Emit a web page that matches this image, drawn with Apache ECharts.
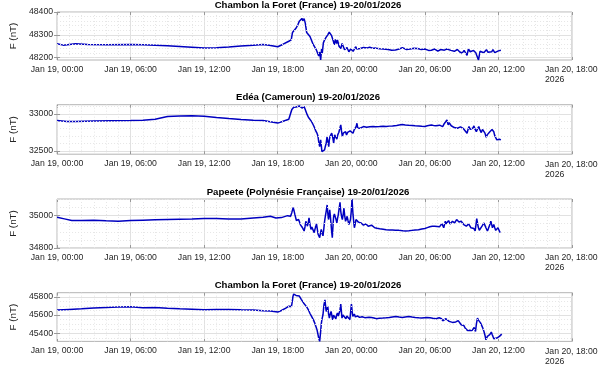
<!DOCTYPE html>
<html><head><meta charset="utf-8">
<script src="https://cdn.jsdelivr.net/npm/echarts@6/dist/echarts.min.js"></script>
<style>html,body{margin:0;padding:0;background:#fff}#c{width:602px;height:367px}</style>
</head><body><div id="c"></div>
<script>
// ---- tick labels / titles ----
const tickLabels = ['Jan 19, 00:00','Jan 19, 06:00','Jan 19, 12:00','Jan 19, 18:00','Jan 20, 00:00','Jan 20, 06:00','Jan 20, 12:00','Jan 20, 18:00'];
const yearLabel = '2026';
const titles = ['Chambon la Foret (France) 19-20/01/2026','Edéa (Cameroun) 19-20/01/2026','Papeete (Polynésie Française) 19-20/01/2026','Chambon la Foret (France) 19-20/01/2026'];
const yAxisName = 'F (nT)';

// ---- y axis limits & ticks ----
const yLimits = [[48190,48400],[32455,33125],[34800,35103],[45312,45845]];
const yTicks = [[48200,48300,48400],[32500,33000],[34800,35000],[45400,45600,45800]];
const yMinorSteps = [20,100,50,50];

// ---- data: [hours since Jan 19 00:00, F (nT)] ----
const chambonA = [[0,48261],[0.5,48255],[1,48258],[1.5,48261],[2.5,48258],[4,48257],[6,48258],[7,48257],[8,48255],[9,48252],[10,48249],[11,48246],[12,48242],[13,48244],[14,48247],[15,48251],[16,48255],[16.8,48258],[17.3,48255],[18,48248],[18.4,48258],[18.9,48272],[19.1,48278],[19.2,48310],[19.35,48318],[19.5,48330],[19.65,48345],[19.76,48360],[19.85,48366],[19.97,48372],[20.05,48362],[20.15,48371],[20.25,48350],[20.36,48310],[20.45,48315],[20.63,48293],[20.75,48296],[20.89,48258],[21,48265],[21.16,48233],[21.25,48240],[21.34,48208],[21.42,48225],[21.5,48190],[21.58,48240],[21.63,48220],[21.72,48265],[21.82,48278],[21.95,48290],[22.08,48300],[22.2,48312],[22.29,48316],[22.38,48298],[22.45,48305],[22.55,48270],[22.61,48256],[22.7,48280],[22.8,48262],[22.87,48278],[23,48250],[23.14,48240],[23.25,48262],[23.35,48260],[23.45,48235],[23.53,48233],[23.65,48245],[23.8,48226],[23.95,48238],[24.06,48242],[24.15,48228],[24.25,48232],[24.35,48248],[24.46,48238],[24.6,48244],[24.72,48240],[25,48245],[25.3,48243],[25.5,48246],[25.8,48241],[26,48242],[26.3,48239],[26.6,48238],[27,48236],[27.3,48233],[27.6,48234],[27.9,48238],[28.16,48244],[28.3,48238],[28.5,48236],[28.8,48238],[29.1,48241],[29.4,48240],[29.7,48236],[30,48238],[30.3,48232],[30.53,48233],[30.8,48238],[31.06,48229],[31.3,48236],[31.59,48233],[31.8,48238],[32.12,48232],[32.4,48228],[32.65,48236],[32.85,48225],[33.04,48220],[33.2,48232],[33.44,48210],[33.55,48238],[33.7,48226],[33.85,48225],[33.97,48232],[34.15,48222],[34.37,48190],[34.5,48228],[34.63,48232],[34.8,48222],[35.02,48235],[35.15,48224],[35.29,48230],[35.45,48226],[35.55,48235],[35.7,48222],[35.82,48227],[36,48230],[36.2,48233]];

const edea = [[0,32910],[0.8,32896],[1.5,32898],[3,32905],[6,32910],[7,32915],[8,32928],[9,32964],[10,32972],[11,32977],[12,32968],[13,32952],[14,32937],[15,32925],[16,32914],[16.8,32910],[17.5,32892],[18,32876],[18.5,32905],[18.9,32928],[19.05,32930],[19.15,33060],[19.24,33054],[19.3,33090],[19.4,33085],[19.5,33095],[19.57,33076],[19.65,33098],[19.76,33108],[19.85,33090],[19.97,33080],[20.05,33102],[20.15,33099],[20.22,33070],[20.31,33031],[20.4,32990],[20.5,32955],[20.6,32930],[20.76,32896],[20.9,32850],[21.02,32806],[21.1,32770],[21.2,32739],[21.28,32700],[21.34,32626],[21.42,32558],[21.5,32649],[21.56,32560],[21.6,32491],[21.69,32468],[21.76,32500],[21.82,32513],[21.88,32560],[21.95,32604],[22.02,32690],[22.08,32716],[22.16,32558],[22.21,32650],[22.26,32694],[22.33,32710],[22.4,32739],[22.48,32690],[22.56,32604],[22.64,32716],[22.72,32690],[22.82,32658],[22.9,32720],[22.98,32748],[23.06,32760],[23.14,32851],[23.2,32770],[23.27,32694],[23.35,32740],[23.45,32739],[23.53,32760],[23.61,32716],[23.7,32750],[23.8,32748],[23.9,32770],[23.98,32784],[24.06,32760],[24.14,32739],[24.22,32780],[24.33,32806],[24.4,32830],[24.46,32874],[24.52,32810],[24.59,32784],[24.65,32800],[24.72,32806],[24.85,32820],[24.99,32829],[25.1,32818],[25.25,32820],[25.5,32826],[25.78,32829],[26,32826],[26.3,32829],[26.6,32833],[26.84,32829],[27.1,32835],[27.36,32838],[27.7,32845],[27.9,32850],[28.16,32856],[28.4,32850],[28.68,32847],[29,32844],[29.2,32840],[29.48,32838],[29.75,32832],[30,32829],[30.2,32840],[30.35,32835],[30.53,32851],[30.7,32845],[30.9,32840],[31.06,32838],[31.2,32848],[31.32,32874],[31.45,32829],[31.55,32860],[31.65,32865],[31.8,32919],[31.9,32851],[31.98,32880],[32.06,32874],[32.15,32840],[32.25,32829],[32.4,32815],[32.52,32810],[32.65,32806],[32.8,32818],[32.9,32825],[33.04,32829],[33.15,32800],[33.3,32806],[33.44,32739],[33.52,32790],[33.6,32829],[33.7,32790],[33.84,32775],[33.92,32810],[34,32838],[34.1,32790],[34.2,32761],[34.3,32800],[34.4,32829],[34.5,32780],[34.6,32748],[34.7,32790],[34.8,32806],[34.9,32740],[35,32685],[35.1,32720],[35.2,32739],[35.3,32760],[35.4,32761],[35.48,32790],[35.55,32806],[35.62,32760],[35.68,32716],[35.78,32680],[35.87,32649],[35.95,32640],[36.08,32658],[36.2,32649]];

const papeete = [[0,34990],[0.6,34980],[1.2,34970],[2,34970],[3,34972],[4,34968],[5,34966],[6,34970],[7,34972],[8,34974],[9,34976],[10,34978],[11,34979],[12,34982],[13,34982],[14,34980],[15,34980],[16,34986],[16.8,34990],[17.4,34996],[17.85,34986],[18.3,34988],[18.8,35000],[19.05,34996],[19.15,35020],[19.26,35050],[19.33,35030],[19.4,35006],[19.52,34970],[19.62,34980],[19.7,34976],[19.78,34960],[19.84,34945],[19.92,34950],[20.02,34925],[20.08,34935],[20.15,34905],[20.22,34930],[20.29,34965],[20.36,34950],[20.42,34935],[20.5,34960],[20.55,34986],[20.62,34950],[20.71,34915],[20.78,34930],[20.84,34935],[20.9,34920],[20.97,34895],[21.05,34920],[21.16,34949],[21.22,34920],[21.29,34885],[21.36,34880],[21.42,34864],[21.48,34890],[21.55,34915],[21.62,34890],[21.69,34875],[21.76,34920],[21.82,34965],[21.88,34995],[21.95,35026],[22.03,35066],[22.09,35010],[22.14,34976],[22.19,35000],[22.24,35036],[22.3,34990],[22.35,34945],[22.4,34900],[22.45,34864],[22.5,34930],[22.56,34996],[22.62,35010],[22.66,35016],[22.74,34980],[22.82,34955],[22.88,34985],[22.93,35002],[23,35040],[23.08,35083],[23.12,35040],[23.16,35016],[23.22,34990],[23.27,34976],[23.34,35010],[23.4,35046],[23.46,35000],[23.53,34965],[23.6,34980],[23.66,34996],[23.73,34970],[23.8,34945],[23.87,34960],[23.93,34976],[24,35030],[24.06,35103],[24.1,35050],[24.14,35006],[24.2,34960],[24.25,34925],[24.32,34950],[24.38,34976],[24.45,34980],[24.51,34986],[24.58,34960],[24.64,34949],[24.72,34958],[24.8,34955],[24.9,34945],[24.99,34941],[25.1,34948],[25.2,34949],[25.3,34940],[25.38,34935],[25.5,34938],[25.65,34941],[25.8,34930],[25.91,34925],[26.1,34922],[26.31,34919],[26.6,34916],[26.84,34913],[27.1,34912],[27.36,34911],[27.6,34910],[27.89,34909],[28.2,34906],[28.42,34905],[28.7,34907],[28.95,34909],[29.2,34911],[29.48,34913],[29.75,34918],[30,34921],[30.2,34926],[30.4,34931],[30.6,34934],[30.8,34935],[31,34933],[31.19,34931],[31.3,34940],[31.38,34951],[31.46,34938],[31.54,34925],[31.6,34945],[31.67,34965],[31.74,34950],[31.8,34941],[31.87,34955],[31.93,34969],[32,34958],[32.06,34949],[32.15,34960],[32.25,34965],[32.34,34958],[32.43,34955],[32.5,34965],[32.59,34976],[32.68,34965],[32.78,34961],[32.87,34958],[32.96,34965],[33.06,34955],[33.17,34945],[33.28,34940],[33.38,34935],[33.48,34945],[33.57,34949],[33.66,34938],[33.76,34925],[33.84,34930],[33.92,34935],[34,34920],[34.1,34905],[34.17,34945],[34.23,34982],[34.3,34950],[34.37,34925],[34.44,34910],[34.5,34901],[34.58,34920],[34.66,34935],[34.74,34945],[34.82,34955],[34.9,34940],[34.98,34925],[35.04,34915],[35.1,34905],[35.18,34920],[35.25,34935],[35.32,34950],[35.38,34965],[35.45,34945],[35.51,34925],[35.57,34935],[35.62,34945],[35.7,34925],[35.78,34909],[35.87,34918],[35.96,34925],[36.05,34910],[36.14,34895]];

const chambonB = [[0,45655],[1,45662],[2,45669],[3,45677],[4,45684],[5,45688],[6,45691],[7,45680],[8,45684],[9,45676],[10,45669],[11,45664],[12,45658],[13,45660],[14,45662],[15,45658],[16,45655],[16.8,45647],[17.4,45645],[18,45633],[18.3,45650],[18.66,45676],[18.9,45698],[19.12,45695],[19.2,45760],[19.24,45804],[19.3,45830],[19.33,45844],[19.4,45825],[19.49,45815],[19.56,45835],[19.65,45829],[19.75,45810],[19.84,45793],[19.93,45770],[20.02,45750],[20.12,45730],[20.23,45713],[20.36,45690],[20.5,45658],[20.62,45620],[20.76,45585],[20.9,45550],[21.02,45512],[21.1,45480],[21.2,45440],[21.28,45390],[21.34,45349],[21.42,45312],[21.5,45421],[21.55,45500],[21.6,45549],[21.65,45580],[21.69,45604],[21.73,45660],[21.77,45713],[21.81,45740],[21.85,45767],[21.9,45700],[21.95,45640],[22.02,45670],[22.08,45695],[22.14,45620],[22.21,45567],[22.28,45610],[22.35,45640],[22.42,45590],[22.48,45549],[22.55,45600],[22.61,45604],[22.68,45580],[22.74,45560],[22.8,45600],[22.87,45622],[22.94,45590],[23,45574],[23.07,45650],[23.14,45720],[23.19,45640],[23.24,45567],[23.32,45600],[23.4,45611],[23.48,45580],[23.56,45560],[23.64,45590],[23.72,45604],[23.8,45570],[23.88,45549],[23.95,45640],[24.01,45720],[24.07,45640],[24.12,45585],[24.19,45600],[24.25,45611],[24.33,45580],[24.41,45560],[24.5,45590],[24.59,45596],[24.68,45575],[24.77,45567],[24.88,45582],[24.99,45585],[25.1,45572],[25.25,45567],[25.45,45575],[25.65,45574],[25.85,45568],[26.04,45560],[26.3,45566],[26.57,45567],[26.85,45570],[27.1,45574],[27.35,45580],[27.63,45585],[27.9,45578],[28.16,45574],[28.4,45580],[28.68,45585],[28.95,45578],[29.21,45574],[29.5,45570],[29.74,45567],[29.95,45572],[30.14,45574],[30.3,45560],[30.42,45570],[30.53,45549],[30.65,45565],[30.8,45574],[30.92,45560],[31.06,45549],[31.16,45570],[31.27,45585],[31.36,45560],[31.45,45538],[31.58,45550],[31.72,45560],[31.85,45545],[31.98,45531],[32.1,45525],[32.25,45520],[32.38,45512],[32.52,45525],[32.65,45531],[32.72,45540],[32.78,45549],[32.88,45520],[32.96,45494],[33.06,45500],[33.17,45487],[33.28,45460],[33.38,45440],[33.48,45430],[33.57,45421],[33.66,45435],[33.76,45440],[33.84,45430],[33.92,45421],[33.97,45440],[34.02,45465],[34.08,45445],[34.13,45421],[34.2,45500],[34.29,45567],[34.37,45545],[34.45,45538],[34.54,45515],[34.63,45494],[34.72,45460],[34.82,45421],[34.9,45380],[34.98,45330],[35.04,45350],[35.1,45367],[35.2,45375],[35.29,45385],[35.36,45400],[35.42,45414],[35.48,45390],[35.55,45367],[35.62,45340],[35.68,45319],[35.78,45335],[35.87,45349],[35.97,45360],[36.08,45367],[36.18,45380],[36.27,45392]];

const panelData = [chambonA, edea, papeete, chambonB];

// ---- layout ----
const plotLeft = 43, plotRight = 29;
const gridTops = [12, 104.7, 199, 292.7];
const gridHeights = [48, 49.5, 49, 48.7];
const xMax = 42, xStep = 6;

const FONT = 'Liberation Sans, Arial, Helvetica, sans-serif';
const TXT = '#262626';
const BORDER = '#b4b4b4';
const MAJOR = '#e1e1e1';
const MINOR = '#e6e6e6';
const LINE = '#0000c0';

const grid = [], xAxis = [], yAxis = [], series = [], title = [];
for (let i = 0; i < 4; i++) {
  grid.push({left: plotLeft, right: plotRight, top: gridTops[i], height: gridHeights[i],
    show: true, borderColor: BORDER, borderWidth: 1, backgroundColor: 'transparent'});
  title.push({text: titles[i], left: 308, textAlign: 'center', top: gridTops[i] - 13, padding: 0,
    textStyle: {fontFamily: FONT, fontSize: 9.6, fontWeight: 'bold', color: '#000', lineHeight: 12}});
  xAxis.push({type: 'value', gridIndex: i, min: 0, max: xMax, interval: xStep, position: 'bottom',
    axisLine: {show: false},
    axisTick: {show: true, inside: true, length: 3, lineStyle: {color: '#999'}},
    minorTick: {show: false, splitNumber: 6},
    splitLine: {show: true, lineStyle: {color: MAJOR, width: 1}},
    minorSplitLine: {show: true, lineStyle: {color: MINOR, width: 1, type: [1, 2]}},
    axisLabel: {show: true, margin: 5, color: TXT, fontFamily: FONT, fontSize: 8.7,
      showMinLabel: true, showMaxLabel: true, hideOverlap: false,
      formatter: function (v) {
        const k = Math.round(v / xStep);
        if (k === tickLabels.length - 1) return '{a|' + tickLabels[k] + '}\n{b|' + yearLabel + '}';
        return tickLabels[k];
      },
      rich: {a: {fontFamily: FONT, fontSize: 8.7, color: TXT, width: 54, align: 'left', lineHeight: 10},
             b: {fontFamily: FONT, fontSize: 8.7, color: TXT, width: 54, align: 'left', lineHeight: 10}}
    }});
  xAxis.push({type: 'value', gridIndex: i, min: 0, max: xMax, interval: xStep, position: 'top',
    axisLine: {show: false}, axisLabel: {show: false}, splitLine: {show: false},
    axisTick: {show: true, inside: true, length: 3, lineStyle: {color: '#999'}}});
  yAxis.push({type: 'value', gridIndex: i, min: yLimits[i][0], max: yLimits[i][1], position: 'left',
    name: yAxisName, nameLocation: 'middle', nameGap: 34, nameRotate: 90,
    nameTextStyle: {fontFamily: FONT, fontSize: 9.8, color: TXT},
    axisLine: {show: false},
    axisTick: {show: true, inside: true, length: 3, customValues: yTicks[i], lineStyle: {color: '#999'}},
    splitLine: {show: true, lineStyle: {color: MAJOR, width: 1}},
    axisLabel: {show: true, customValues: yTicks[i], margin: 4, color: TXT, fontFamily: FONT, fontSize: 8.7,
      formatter: function (v) { return String(v); }}});
  yAxis.push({type: 'value', gridIndex: i, min: yLimits[i][0], max: yLimits[i][1], position: 'right',
    axisLine: {show: false}, axisLabel: {show: false}, splitLine: {show: false},
    axisTick: {show: true, inside: true, length: 3, customValues: yTicks[i], lineStyle: {color: '#999'}}});

  // minor horizontal grid (dotted)
  const minorVals = [];
  const st = yMinorSteps[i];
  for (let v = Math.ceil(yLimits[i][0] / st) * st; v < yLimits[i][1]; v += st) {
    if (yTicks[i].indexOf(v) < 0) minorVals.push({yAxis: v});
  }
  series.push({type: 'line', xAxisIndex: 2 * i, yAxisIndex: 2 * i, data: [], silent: true, z: 1,
    markLine: {silent: true, symbol: ['none', 'none'], label: {show: false}, animation: false,
      emphasis: {disabled: true},
      lineStyle: {color: MINOR, width: 1, type: [1, 2]}, data: minorVals}});
  series.push({type: 'line', xAxisIndex: 2 * i, yAxisIndex: 2 * i, data: panelData[i],
    showSymbol: false, symbol: 'none', z: 3, animation: false,
    lineStyle: {color: LINE, width: 1.5}, itemStyle: {color: LINE}});
}

const chart = echarts.init(document.getElementById('c'), null, {renderer: 'canvas'});
chart.setOption({animation: false, backgroundColor: '#fff', title, grid, xAxis, yAxis, series});
</script>
</body></html>
